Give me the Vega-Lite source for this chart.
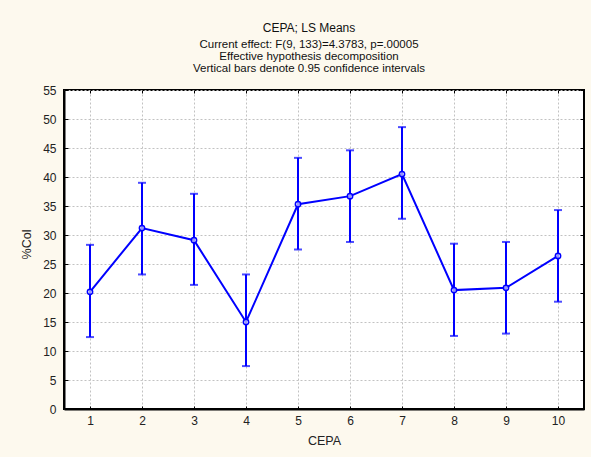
{
  "$schema": "https://vega.github.io/schema/vega-lite/v6.json",
  "width": 520,
  "height": 319,
  "autosize": {"type": "none"},
  "padding": {"left": 64, "top": 90, "right": 7, "bottom": 48},
  "background": "#FDF9EE",
  "title": {
    "text": "CEPA; LS Means",
    "subtitle": [
      "Current effect: F(9, 133)=4.3783, p=.00005",
      "Effective hypothesis decomposition",
      "Vertical bars denote 0.95 confidence intervals"
    ],
    "anchor": "middle",
    "dx": -15,
    "offset": 9,
    "font": "Liberation Sans",
    "fontSize": 12,
    "fontWeight": "normal",
    "color": "#111111",
    "subtitleFont": "Liberation Sans",
    "subtitleFontSize": 11.5,
    "subtitleColor": "#111111",
    "subtitleLineHeight": 12,
    "subtitlePadding": 4
  },
  "config": {
    "view": {"fill": "white", "stroke": "black", "strokeWidth": 2},
    "axis": {
      "labelFont": "Liberation Sans",
      "labelFontSize": 12,
      "labelColor": "#222222",
      "titleFont": "Liberation Sans",
      "titleFontSize": 12.5,
      "titleFontWeight": "normal",
      "titleColor": "#222222",
      "domainColor": "black",
      "domainWidth": 2,
      "tickColor": "black",
      "tickWidth": 1,
      "gridColor": "#c2c2c2",
      "gridDash": [2, 2],
      "gridWidth": 1
    }
  },
  "data": {
    "values": [
      {"CEPA": 1, "mean": 20.2, "lo": 12.4, "hi": 28.3},
      {"CEPA": 2, "mean": 31.2, "lo": 23.2, "hi": 39.0},
      {"CEPA": 3, "mean": 29.1, "lo": 21.4, "hi": 37.1},
      {"CEPA": 4, "mean": 15.0, "lo": 7.4, "hi": 23.2},
      {"CEPA": 5, "mean": 35.3, "lo": 27.5, "hi": 43.3},
      {"CEPA": 6, "mean": 36.7, "lo": 28.8, "hi": 44.6},
      {"CEPA": 7, "mean": 40.5, "lo": 32.8, "hi": 48.6},
      {"CEPA": 8, "mean": 20.5, "lo": 12.6, "hi": 28.5},
      {"CEPA": 9, "mean": 20.9, "lo": 13.0, "hi": 28.8},
      {"CEPA": 10, "mean": 26.4, "lo": 18.5, "hi": 34.3}
    ]
  },
  "resolve": {"axis": {"x": "independent", "y": "independent"}},
  "layer": [
    {
      "mark": {"type": "rule", "color": "#0000FF", "strokeWidth": 2},
      "encoding": {
        "x": {
          "field": "CEPA",
          "type": "ordinal",
          "scale": {"type": "point", "padding": 0.5},
          "axis": {
            "orient": "bottom",
            "title": "CEPA",
            "labelAngle": 0,
            "tickSize": -3,
            "labelPadding": 9,
            "titlePadding": 8,
            "grid": true
          }
        },
        "y": {
          "field": "lo",
          "type": "quantitative",
          "scale": {"domain": [0, 55], "nice": false, "zero": true},
          "axis": {
            "orient": "left",
            "title": "%Col",
            "values": [0, 5, 10, 15, 20, 25, 30, 35, 40, 45, 50, 55],
            "tickSize": -4,
            "labelPadding": 12,
            "titlePadding": 9,
            "titleY": 154,
            "grid": true
          }
        },
        "y2": {"field": "hi"}
      }
    },
    {
      "mark": {"type": "tick", "color": "#0000FF", "size": 8, "thickness": 2},
      "encoding": {
        "x": {"field": "CEPA", "type": "ordinal", "axis": null},
        "y": {"field": "lo", "type": "quantitative", "axis": null}
      }
    },
    {
      "mark": {"type": "tick", "color": "#0000FF", "size": 8, "thickness": 2},
      "encoding": {
        "x": {"field": "CEPA", "type": "ordinal", "axis": null},
        "y": {"field": "hi", "type": "quantitative", "axis": null}
      }
    },
    {
      "mark": {"type": "line", "color": "#0000FF", "strokeWidth": 2},
      "encoding": {
        "x": {
          "field": "CEPA",
          "type": "ordinal",
          "axis": {
            "orient": "top",
            "title": null,
            "labels": false,
            "domain": false,
            "grid": false,
            "tickSize": -3
          }
        },
        "y": {
          "field": "mean",
          "type": "quantitative",
          "axis": {
            "orient": "right",
            "title": null,
            "labels": false,
            "domain": false,
            "grid": false,
            "values": [0, 5, 10, 15, 20, 25, 30, 35, 40, 45, 50, 55],
            "tickSize": -4
          }
        }
      }
    },
    {
      "mark": {"type": "point", "shape": "circle", "filled": false, "fill": "white", "fillOpacity": 0.6, "color": "#0000FF", "strokeWidth": 1.5, "size": 28, "opacity": 1},
      "encoding": {
        "x": {"field": "CEPA", "type": "ordinal", "axis": null},
        "y": {"field": "mean", "type": "quantitative", "axis": null}
      }
    }
  ]
}
